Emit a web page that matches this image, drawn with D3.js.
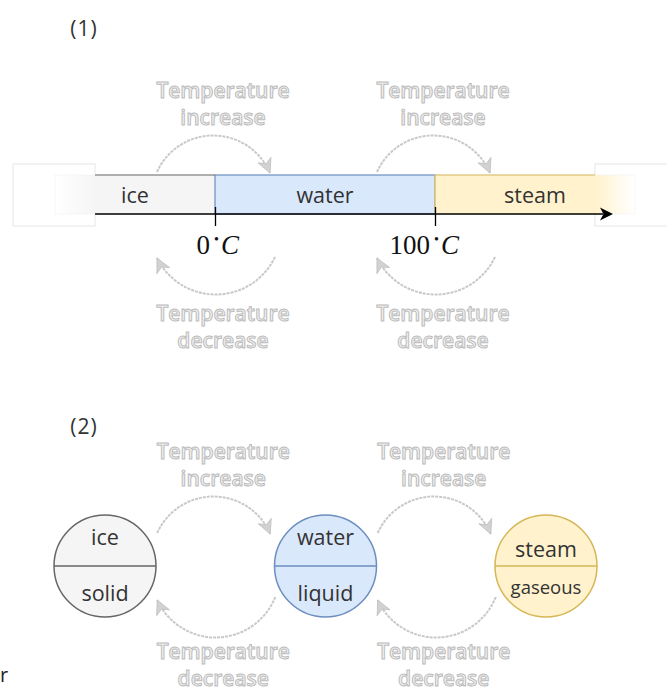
<!DOCTYPE html>
<html><head><meta charset="utf-8">
<script src="https://cdn.jsdelivr.net/npm/d3@7"></script>
<style>body{margin:0;background:#fff}svg{display:block}</style>
</head><body><svg id="c" width="667" height="691"></svg>
<script>
// ---- data ----
const phases = ["ice", "water", "steam"];
const states = ["solid", "liquid", "gaseous"];
const thresholds = [0, 100];               // °C, phase changes
const thresholdLabels = ["0", "100"];
const phaseRanges = [[-72.7, 0], [0, 100], [100, 190.9]]; // °C span of each bar segment
const increaseLabel = ["Temperature", "increase"];
const decreaseLabel = ["Temperature", "decrease"];
const headings = ["(1)", "(2)"];

// ---- setup ----
const svg = d3.select("#c");
const defs = svg.append("defs");
const fill = d3.scaleOrdinal().domain(phases).range(["#f5f5f5", "#dae8fc", "#fff2cc"]);
const edge = d3.scaleOrdinal().domain(phases).range(["#666666", "#6c8ebf", "#d6b656"]);
const x = d3.scaleLinear().domain([0, 100]).range([215, 435]);
const cx = d3.scalePoint().domain(phases).range([105, 546]);
const FADE = 40, barTop = 175, barBot = 214;
const sans = "'Open Sans', 'DejaVu Sans', sans-serif";

// gradients for faded ends
const x0 = x(phaseRanges[0][0]), x1 = x(phaseRanges[2][1]);
const gL = defs.append("linearGradient").attr("id", "fadeL");
gL.append("stop").attr("offset", 0).attr("stop-color", "#ffffff");
gL.append("stop").attr("offset", FADE / (x(0) - x0)).attr("stop-color", fill("ice"));
gL.append("stop").attr("offset", 1).attr("stop-color", fill("ice"));
const gR = defs.append("linearGradient").attr("id", "fadeR");
gR.append("stop").attr("offset", 0).attr("stop-color", fill("steam"));
gR.append("stop").attr("offset", 1 - FADE / (x1 - x(100))).attr("stop-color", fill("steam"));
gR.append("stop").attr("offset", 1).attr("stop-color", "#ffffff");

// arrow head marker
defs.append("marker").attr("id", "ah")
  .attr("viewBox", "-16 -9 18 18").attr("markerUnits", "userSpaceOnUse")
  .attr("markerWidth", 18).attr("markerHeight", 18).attr("refX", 0).attr("refY", 0)
  .attr("orient", "auto")
  .append("path").attr("d", "M0,0 L-14,-7 L-10,0 L-14,7Z")
  .attr("fill", "#d2d2d2").attr("stroke", "#c0c0c0").attr("stroke-width", 0.8);

// headings
svg.selectAll("text.head").data(headings).join("text").attr("class", "head")
  .attr("x", 84).attr("y", (d, i) => i ? 434 : 36)
  .attr("text-anchor", "middle").attr("font-family", sans).attr("font-size", 21)
  .attr("letter-spacing", 1).attr("fill", "#333").text(d => d);

// ---- section 1: bar ----
// faint outline boxes at both ends
svg.append("rect").attr("x", x0 - 42).attr("y", 164).attr("width", 82).attr("height", 62)
  .attr("fill", "#fff").attr("stroke", "#e6e6e6");
svg.append("rect").attr("x", x1 - FADE).attr("y", 164).attr("width", 82).attr("height", 62)
  .attr("fill", "#fff").attr("stroke", "#e6e6e6");

const segs = phases.map((p, i) => ({ p, a: x(phaseRanges[i][0]), b: x(phaseRanges[i][1]) }));
svg.selectAll("rect.seg").data(segs).join("rect").attr("class", "seg")
  .attr("x", d => d.a).attr("y", barTop).attr("width", d => d.b - d.a).attr("height", barBot - barTop)
  .attr("fill", d => d.p === "ice" ? "url(#fadeL)" : d.p === "steam" ? "url(#fadeR)" : fill(d.p))
  .attr("stroke", d => d.p === "water" ? edge(d.p) : "#f0f0f0")
  .attr("stroke-width", d => d.p === "water" ? 1.2 : 0.6);
// borders of the faded segments
svg.append("line").attr("x1", x0 + FADE).attr("x2", x(0)).attr("y1", barTop).attr("y2", barTop)
  .attr("stroke", edge("ice")).attr("stroke-width", 1.2);
svg.append("line").attr("x1", x(100)).attr("x2", x1 - FADE).attr("y1", barTop).attr("y2", barTop)
  .attr("stroke", edge("steam")).attr("stroke-width", 1.2);
svg.append("line").attr("x1", x(100)).attr("x2", x(100)).attr("y1", barTop).attr("y2", barBot)
  .attr("stroke", edge("steam")).attr("stroke-width", 1.2);

svg.selectAll("text.seg").data(segs).join("text").attr("class", "seg")
  .attr("x", d => (d.a + d.b) / 2).attr("y", 203).attr("text-anchor", "middle")
  .attr("font-family", sans).attr("font-size", 21.5).attr("fill", "#333").text(d => d.p);

// axis
const axisG = svg.append("g").attr("transform", `translate(0,${barBot})`)
  .call(d3.axisBottom(x).tickValues(thresholds).tickSizeInner(12).tickSizeOuter(0).tickFormat(""));
axisG.select(".domain").remove();
axisG.selectAll(".tick line").attr("y1", -7).attr("stroke", "#000").attr("stroke-width", 1.3);
svg.append("line").attr("x1", x0 + FADE).attr("x2", x1 - 32).attr("y1", barBot).attr("y2", barBot)
  .attr("stroke", "#000").attr("stroke-width", 1.6);
svg.append("path")
  .attr("d", `M${x1 - 22},${barBot} L${x1 - 35},${barBot - 6.5} L${x1 - 31.5},${barBot} L${x1 - 35},${barBot + 6.5}Z`)
  .attr("fill", "#000");

// tick labels (LaTeX style)
const serif = "'Liberation Serif', 'DejaVu Serif', serif";
svg.selectAll("text.tn").data(thresholds).join("text").attr("class", "tn")
  .attr("x", d => x(d) - 5).attr("y", 254).attr("text-anchor", "end")
  .attr("font-family", serif).attr("font-size", 27).attr("fill", "#111")
  .text((d, i) => thresholdLabels[i]);
const tu = svg.selectAll("text.tu").data(thresholds).join("text").attr("class", "tu")
  .attr("x", d => x(d) - 1).attr("y", 254)
  .attr("font-family", serif).attr("font-size", 27).attr("fill", "#111");
tu.append("tspan").attr("font-size", 14).attr("dy", -10).text("•");
tu.append("tspan").attr("font-style", "italic").attr("dy", 10).attr("dx", 2).text("C");

// ---- curved arrows and labels ----
function arcPath(ax, ay, bx, by, sag) {
  const c = Math.hypot(bx - ax, by - ay);
  const r = (c * c / 4 + sag * sag) / (2 * sag);
  return `M${ax},${ay} A${r},${r} 0 0 1 ${bx},${by}`;
}
function tempLabel(lines, cxv, y0) {
  const t = svg.append("text").attr("text-anchor", "middle")
    .attr("font-family", sans).attr("font-size", 21).attr("font-weight", 600)
    .attr("fill", "#f1f1f1").attr("stroke", "#bcbcbc").attr("stroke-width", 1);
  lines.forEach((l, i) => t.append("tspan").attr("x", cxv).attr("y", y0 + i * 27).text(l));
}
function arcs(centres, topY, botY, sagTop, sagBot, endBotDy, labTop, labBot) {
  centres.forEach(c => {
    svg.append("path").attr("d", arcPath(c - 58, topY, c + 55, topY + 1, sagTop))
      .attr("fill", "none").attr("stroke", "#c9c9c9").attr("stroke-width", 2)
      .attr("stroke-dasharray", "3 1").attr("marker-end", "url(#ah)");
    svg.append("path").attr("d", arcPath(c + 60, botY, c - 58, botY + endBotDy, sagBot))
      .attr("fill", "none").attr("stroke", "#c9c9c9").attr("stroke-width", 2)
      .attr("stroke-dasharray", "3 1").attr("marker-end", "url(#ah)");
    tempLabel(increaseLabel, c + 8, labTop);
    tempLabel(decreaseLabel, c + 8, labBot);
  });
}
arcs(thresholds.map(x), 172, 257, 37, 37, 1, 98, 321);
const mids = d3.pairs(phases).map(([a, b]) => (cx(a) + cx(b)) / 2);
arcs(mids, 533, 597, 37, 39, 3, 459, 659);

// ---- section 2: circles ----
const cy = 566, R = 51;
const g2 = svg.selectAll("g.st").data(phases).join("g").attr("class", "st")
  .attr("transform", d => `translate(${cx(d)},${cy})`);
g2.append("circle").attr("r", R).attr("fill", d => fill(d)).attr("stroke", d => edge(d)).attr("stroke-width", 1.5);
g2.append("line").attr("x1", -R).attr("x2", R).attr("stroke", d => edge(d)).attr("stroke-width", 1.5);
g2.append("text").attr("text-anchor", "middle").attr("y", d => d === "steam" ? -9 : -21)
  .attr("font-family", sans).attr("font-size", 21.5).attr("fill", "#333").text(d => d);
g2.append("text").attr("text-anchor", "middle").attr("y", (d, i) => states[i] === "gaseous" ? 28 : 35)
  .attr("font-family", sans).attr("font-size", (d, i) => states[i] === "gaseous" ? 18.5 : 21.5)
  .attr("fill", "#333").text((d, i) => states[i]);

// stray letter at the bottom-left edge
svg.append("text").attr("x", 0).attr("y", 682).attr("font-family", sans).attr("font-size", 20)
  .attr("fill", "#222").text("r");
</script></body></html>
